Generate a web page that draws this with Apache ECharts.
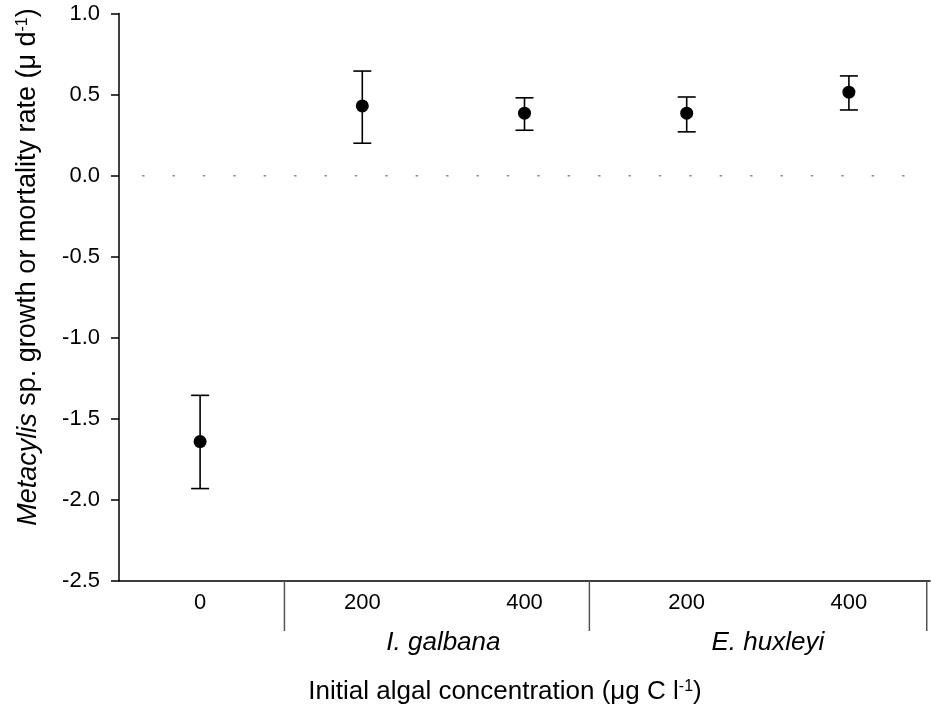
<!DOCTYPE html>
<html>
<head>
<meta charset="utf-8">
<script src="https://cdn.jsdelivr.net/npm/echarts@6/dist/echarts.min.js"></script>
<style>html,body{margin:0;padding:0;background:#fff}#c{width:931px;height:719px}</style>
</head>
<body>
<div id="c"></div>
<script>
// ---- data ----
var categories = ['0', '200', '400', '200', '400'];
var means = [-1.64, 0.43, 0.385, 0.385, 0.515];
var upper = [-1.355, 0.645, 0.48, 0.485, 0.615];
var lower = [-1.93, 0.20, 0.28, 0.27, 0.405];
var groupNames = ['I. galbana', 'E. huxleyi'];
var groupCenters = [1.5, 3.5];          // category-index units
var separators = [0.52, 2.40, 4.48];    // category-index units
var zeroLine = [[-0.358, 0], [4.343, 0]];

var FONT = '"Liberation Sans", Arial, Helvetica, sans-serif';
var chart = echarts.init(document.getElementById('c'), null, {renderer: 'canvas'});

var errData = categories.map(function (c, i) { return [i, lower[i], upper[i]]; });

var option = {
  animation: false,
  backgroundColor: '#fff',
  textStyle: {fontFamily: FONT},
  grid: {left: 119, right: 1, top: 13.5, bottom: 138, containLabel: false},
  xAxis: [{
    type: 'category',
    data: categories,
    boundaryGap: true,
    axisLine: {onZero: false, lineStyle: {color: '#000', width: 1.5}},
    axisTick: {alignWithLabel: true, interval: 0, length: 8, lineStyle: {color: '#000', width: 1.5}},
    axisLabel: {interval: 0, margin: 11, fontSize: 22, color: '#000', fontFamily: FONT},
    splitLine: {show: false}
  }, {
    type: 'value', min: -0.5, max: 4.5, show: false,
    axisLine: {show: false, onZero: false}, axisTick: {show: false}, axisLabel: {show: false}, splitLine: {show: false}
  }],
  yAxis: {
    type: 'value', min: -2.5, max: 1.0, interval: 0.5,
    axisLine: {show: true, onZero: false, lineStyle: {color: '#000', width: 1.5}},
    axisTick: {show: true, length: 8, lineStyle: {color: '#000', width: 1.5}},
    axisLabel: {margin: 19, fontSize: 22, color: '#000', fontFamily: FONT,
      formatter: function (v) { return v.toFixed(1); }},
    splitLine: {show: false}
  },
  graphic: [{
    type: 'text', x: 28, y: 267, rotation: Math.PI / 2,
    style: {
      text: '{i|Metacylis}{n| sp. growth or mortality rate (\u03bc d}{s|-1}{n|)}',
      align: 'center', verticalAlign: 'middle', fill: '#000',
      rich: {
        i: {fontSize: 27, fontStyle: 'italic', fontFamily: FONT, fill: '#000', verticalAlign: 'bottom'},
        n: {fontSize: 27, fontFamily: FONT, fill: '#000', verticalAlign: 'bottom'},
        s: {fontSize: 16, fontFamily: FONT, fill: '#000', verticalAlign: 'top'}
      }
    }
  }, {
    type: 'text', x: 505, y: 692,
    style: {
      text: '{n|Initial algal concentration (\u03bcg C l}{s|-1}{n|)}',
      align: 'center', verticalAlign: 'middle', fill: '#000',
      rich: {
        n: {fontSize: 26, fontFamily: FONT, fill: '#000', verticalAlign: 'bottom'},
        s: {fontSize: 16, fontFamily: FONT, fill: '#000', verticalAlign: 'top'}
      }
    }
  }],
  series: [{
    type: 'line', xAxisIndex: 1, data: zeroLine, symbol: 'none', silent: true,
    lineStyle: {color: '#8a8a8a', width: 1.5, type: [2.5, 27.9]}
  }, {
    type: 'custom', xAxisIndex: 0, data: errData, clip: false, z: 3,
    renderItem: function (params, api) {
      var i = api.value(0);
      var lo = api.coord([i, api.value(1)]);
      var hi = api.coord([i, api.value(2)]);
      var hw = 9;
      var st = {stroke: '#000', lineWidth: 1.6};
      return {type: 'group', children: [
        {type: 'line', shape: {x1: lo[0], y1: lo[1], x2: hi[0], y2: hi[1]}, style: st},
        {type: 'line', shape: {x1: lo[0] - hw, y1: lo[1], x2: lo[0] + hw, y2: lo[1]}, style: st},
        {type: 'line', shape: {x1: hi[0] - hw, y1: hi[1], x2: hi[0] + hw, y2: hi[1]}, style: st}
      ]};
    }
  }, {
    type: 'scatter', xAxisIndex: 0, data: means, symbol: 'circle', symbolSize: 13, z: 4,
    itemStyle: {color: '#000', opacity: 1}
  }, {
    type: 'custom', xAxisIndex: 1, data: separators, clip: false,
    renderItem: function (params, api) {
      var p = api.coord([api.value(0), -2.5]);
      return {type: 'line', shape: {x1: p[0], y1: p[1], x2: p[0], y2: p[1] + 50},
        style: {stroke: '#555', lineWidth: 1.5}};
    }
  }, {
    type: 'custom', xAxisIndex: 1, data: groupCenters, clip: false,
    renderItem: function (params, api) {
      var p = api.coord([api.value(0), -2.5]);
      return {type: 'text', x: p[0], y: p[1] + 62,
        style: {text: groupNames[params.dataIndex], fontSize: 26, fontStyle: 'italic',
          fontFamily: FONT, fill: '#000', align: 'center', verticalAlign: 'middle'}};
    }
  }]
};
chart.setOption(option);
</script>
</body>
</html>
